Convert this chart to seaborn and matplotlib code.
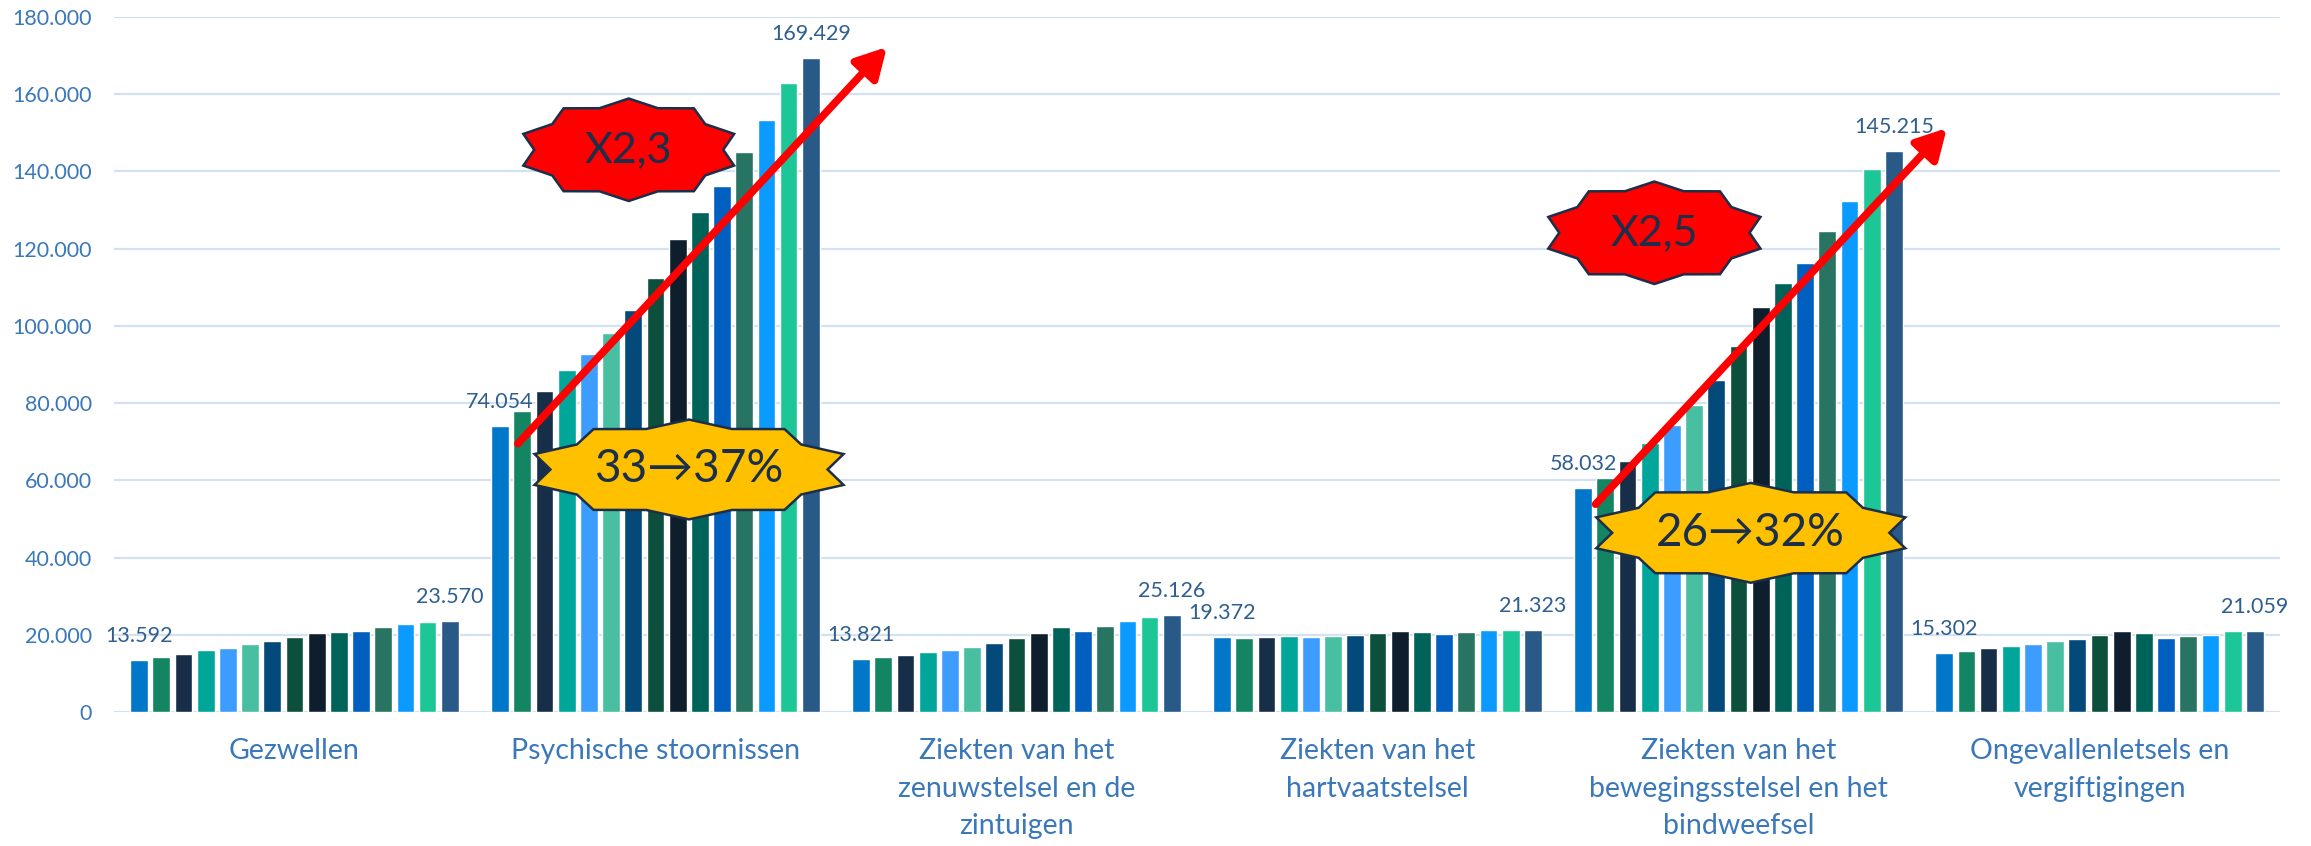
import numpy as np
import pandas as pd
import matplotlib
matplotlib.use('Agg')
import matplotlib.pyplot as plt
from matplotlib.patches import Polygon
from matplotlib.ticker import FuncFormatter
import seaborn as sns

# categories (ziektegroepen) and the wrapped labels shown under the axis
categories = ['Gezwellen', 'Psychische stoornissen',
              'Ziekten van het zenuwstelsel en de zintuigen',
              'Ziekten van het hartvaatstelsel',
              'Ziekten van het bewegingsstelsel en het bindweefsel',
              'Ongevallenletsels en vergiftigingen']
tick_labels = ['Gezwellen', 'Psychische stoornissen',
               'Ziekten van het\nzenuwstelsel en de\nzintuigen',
               'Ziekten van het\nhartvaatstelsel',
               'Ziekten van het\nbewegingsstelsel en het\nbindweefsel',
               'Ongevallenletsels en\nvergiftigingen']

years = ['2008', '2009', '2010', '2011', '2012', '2013', '2014', '2015',
         '2016', '2017', '2018', '2019', '2020', '2021', '2022']

# one list per category, one value per year
gezwellen = [13592, 14260, 15040, 16090, 16700, 17570, 18430, 19480,
             20520, 20700, 20870, 22000, 22780, 23200, 23570]
psychisch = [74054, 78000, 83200, 88500, 92800, 98100, 104200, 112500,
             122600, 129500, 136200, 145100, 153400, 163000, 169429]
zenuw = [13821, 14350, 14870, 15480, 16090, 16870, 17740, 19130,
         20430, 22000, 20960, 22350, 23570, 24700, 25126]
hartvaat = [19372, 19130, 19480, 19570, 19480, 19740, 19910, 20520,
            20870, 20600, 20260, 20780, 21200, 21300, 21323]
beweging = [58032, 60500, 65000, 69600, 74200, 79500, 86000, 94800,
            104800, 111100, 116400, 124500, 132300, 140700, 145215]
ongeval = [15302, 15830, 16520, 17130, 17650, 18430, 18960, 20000,
           20960, 20430, 19040, 19570, 20000, 20870, 21059]

colors = ['#0077C8', '#138563', '#162E48', '#00A69A', '#3D9DFF', '#48BFA0',
          '#03497A', '#0C4F3D', '#0F1E2D', '#00635A', '#005FBF', '#287462',
          '#0B9AFF', '#1DC696', '#285987']

series = [gezwellen, psychisch, zenuw, hartvaat, beweging, ongeval]
rows = []
for cat, vals in zip(categories, series):
    for yr, v in zip(years, vals):
        rows.append({'categorie': cat, 'jaar': yr, 'aantal': v})
df = pd.DataFrame(rows)

sns.set_style('white')
plt.rcParams['font.family'] = ['Lato', 'DejaVu Sans']

tick_color = '#3A78BA'
label_color = '#2F5F8F'
grid_color = '#D3E1F0'
text_dark = '#1B2F4B'

fig = plt.figure(figsize=(23.11, 8.46), dpi=100)
ax = fig.add_axes([0.0493, 0.1584, 0.9373, 0.8216])

sns.barplot(data=df, x='categorie', y='aantal', hue='jaar', palette=colors,
            width=0.922, gap=0.2, saturation=1, legend=False, ax=ax, zorder=2)

ax.set_ylim(0, 180000)
ax.set_xlim(-0.5, 5.5)
ax.set_yticks(np.arange(0, 180001, 20000))
ax.yaxis.set_major_formatter(FuncFormatter(lambda v, p: f'{v:,.0f}'.replace(',', '.')))
ax.grid(axis='y', color=grid_color, linewidth=1.6, zorder=0)
ax.set_axisbelow(True)
for s in ax.spines.values():
    s.set_visible(False)
ax.set_xlabel('')
ax.set_ylabel('')
ax.set_xticks(range(len(categories)))
ax.set_xticklabels(tick_labels, fontsize=20.5, color=tick_color, linespacing=1.55)
ax.tick_params(axis='x', length=0, pad=19)
ax.tick_params(axis='y', length=0, pad=16, labelsize=15.5, labelcolor=tick_color)

# value labels on the first and last year of each group
fmt = lambda v: f'{v:,.0f}'.replace(',', '.')
for cont in (ax.containers[0], ax.containers[-1]):
    ax.bar_label(cont, labels=[fmt(b.get_height()) for b in cont],
                 padding=10, fontsize=15.5, color=label_color)


def star10(cx, cy, hw, hh, ratio=0.853):
    pts = []
    for k in range(20):
        a = np.deg2rad(90 - 18 * k)
        r = 1.0 if k % 2 == 0 else ratio
        pts.append((cx + r * hw * np.cos(a), cy + r * hh * np.sin(a)))
    return pts


def badge(cx, cy, hw, hh, face, text, size=30):
    ax.add_patch(Polygon(star10(cx, cy, hw, hh), closed=True, facecolor=face,
                         edgecolor=text_dark, linewidth=1.8, zorder=6))
    ax.text(cx, cy, text, ha='center', va='center', fontsize=size,
            color=text_dark, zorder=7)


def arrow(x0, y0, x1, y1):
    ax.annotate('', xy=(x1, y1), xytext=(x0, y0), zorder=5,
                arrowprops=dict(arrowstyle='-|>,head_length=1.0,head_width=0.55',
                                color='#FF0000', lw=5.5, mutation_scale=18,
                                shrinkA=0, shrinkB=0))


arrow(0.619, 69500, 1.641, 172200)
arrow(3.604, 53800, 4.577, 151200)
badge(0.926, 145600, 0.307, 13270, '#FF0000', 'X2,3', 31)
badge(1.093, 62800, 0.450, 12930, '#FFC000', '33→37%', 33)
badge(3.767, 124100, 0.309, 13270, '#FF0000', 'X2,5', 31)
badge(4.034, 46400, 0.450, 12930, '#FFC000', '26→32%', 33)

plt.savefig('out.png', dpi=100)
